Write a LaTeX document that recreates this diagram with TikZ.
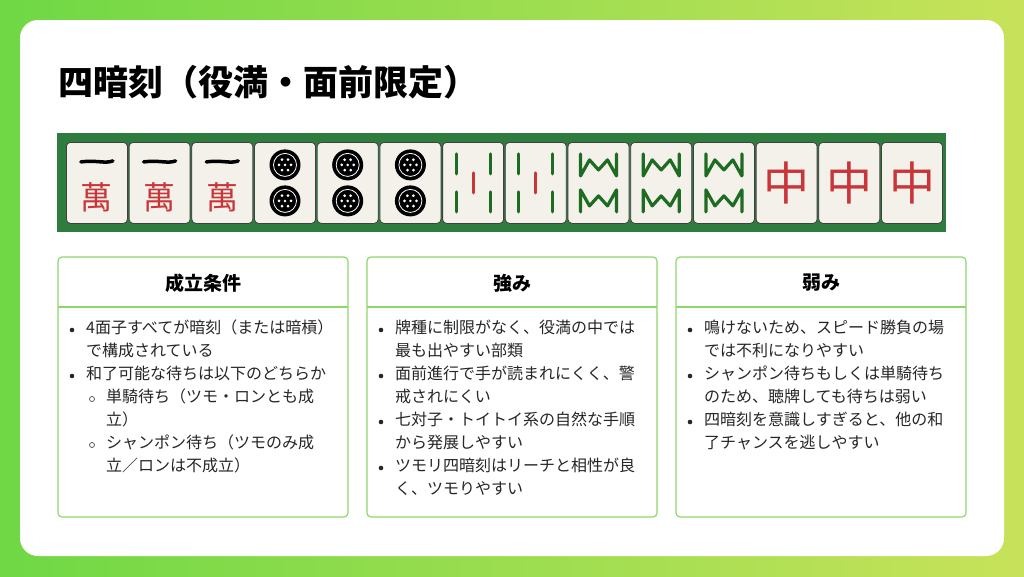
\documentclass[tikz,border=0pt]{standalone}
\usepackage{fontspec}
\setmainfont{Noto Sans CJK JP}
\usetikzlibrary{shadings,calc}
\definecolor{gL}{HTML}{6FD845}
\definecolor{gR}{HTML}{C8E25A}
\definecolor{bd}{HTML}{8ED86A}
\definecolor{felt}{HTML}{2E7D3E}
\definecolor{tile}{HTML}{F3F1EA}
\definecolor{bam}{HTML}{1E6B22}
\definecolor{mred}{HTML}{C8363A}
\definecolor{pin}{HTML}{2E2E66}
\begin{document}
\begin{tikzpicture}[x=1pt,y=-1pt,
  box/.style={draw=bd,line width=1.2pt,rounded corners=4pt,fill=white},
  hdr/.style={font=\fontsize{19}{22}\selectfont\bfseries},
  txt/.style={anchor=north west,inner sep=0pt,align=left,font=\fontsize{16}{23}\selectfont,text=black!85},
  tl/.style={fill=tile,draw=black!75,line width=0.8pt,rounded corners=4pt},
  bb/.style={draw=bam,line width=3.2pt,line cap=round},
  rb/.style={draw=mred,line width=3.2pt,line cap=round}]
\shade[left color=gL,right color=gR] (0,0) rectangle (1024,576);
\useasboundingbox (0,0) rectangle (1024,576);
\fill[white,rounded corners=18pt] (20,20) rectangle (1004,556);
\node[anchor=west,inner sep=0pt,font=\fontsize{35}{40}\selectfont\bfseries] (title) at (58,82) {四暗刻（役満・面前限定）};
% tile strip
\fill[felt] (57,133) rectangle (946,232);
\foreach \i in {0,...,13}{
  \pgfmathsetmacro{\xx}{66+62.7*\i}
  \node[tl,minimum width=61pt,minimum height=81pt,inner sep=0pt,anchor=north west] (t\i) at (\xx,142) {};
}
\foreach \i in {0,1,2}{
  \draw[black,line width=3.5pt,line cap=round] ($(t\i.center)+(-16,-21)$) .. controls ($(t\i.center)+(0,-23)$) and ($(t\i.center)+(8,-19)$) .. ($(t\i.center)+(16,-22)$);
  \node[font=\fontsize{32}{32}\selectfont,text=mred] at ($(t\i.center)+(0,14)$) {萬};
}
\foreach \i in {3,4,5}{
  \foreach \dy in {-18,18}{
    \coordinate (c) at ($(t\i.center)+(0,\dy)$);
    \fill[pin,draw=black,line width=1pt] (c) circle (15);
    \draw[white,line width=0.8pt] (c) circle (11.5);
    \foreach \a in {0,60,...,300}\fill[white] (c) ++(\a:6) circle (1.5);
    \fill[white] (c) circle (1.4);
  }
}
\foreach \i in {6,7}{
  \foreach \dx in {-17,17}\foreach \dy in {-19,19}
    \draw[bb] ($(t\i.center)+(\dx,\dy-10)$) -- ++(0,20);
  \draw[rb] ($(t\i.center)+(0,-10)$) -- ++(0,20);
}
\foreach \i in {8,9,10}{
  \draw[bb,line join=round] ($(t\i.center)+(-18,-29)$) -- ++(0,22) -- ++(9,-16) -- ++(9,10) -- ++(9,-10) -- ++(9,16) -- ++(0,-22);
  \draw[bb,line join=round] ($(t\i.center)+(-18,29)$) -- ++(0,-22) -- ++(9,16) -- ++(9,-10) -- ++(9,10) -- ++(9,-16) -- ++(0,22);
}
\foreach \i in {11,12,13}
  \node[font=\fontsize{46}{46}\selectfont,text=mred] at (t\i.center) {中};
% boxes
\foreach \n/\x/\h in {A/58/成立条件,B/367/強み,C/676/弱み}{
  \draw[box] (\x,257) rectangle ++(290,260);
  \draw[bd,line width=1.2pt] (\x,307) -- ++(290,0);
  \node[hdr] (h\n) at (\x+145,283) {\h};
}
\newcommand\bul[3]{\fill[black!85] (#1,#2+10) circle (2.3);
  \node[txt] at (#1+14,#2) {#3};}
\newcommand\sbul[3]{\draw[black!70,line width=0.7pt] (#1,#2+10) circle (2.5);
  \node[txt] at (#1+14,#2) {#3};}
\bul{72}{320}{4面子すべてが暗刻（または暗槓）\\で構成されている}
\bul{72}{366}{和了可能な待ちは以下のどちらか}
\sbul{92}{389}{単騎待ち（ツモ・ロンとも成\\立）}
\sbul{92}{435}{シャンポン待ち（ツモのみ成\\立／ロンは不成立）}
\bul{381}{320}{牌種に制限がなく、役満の中では\\最も出やすい部類}
\bul{381}{366}{面前進行で手が読まれにくく、警\\戒されにくい}
\bul{381}{412}{七対子・トイトイ系の自然な手順\\から発展しやすい}
\bul{381}{458}{ツモリ四暗刻はリーチと相性が良\\く、ツモりやすい}
\bul{690}{320}{鳴けないため、スピード勝負の場\\では不利になりやすい}
\bul{690}{366}{シャンポン待ちもしくは単騎待ち\\のため、聴牌しても待ちは弱い}
\bul{690}{412}{四暗刻を意識しすぎると、他の和\\了チャンスを逃しやすい}
\end{tikzpicture}
\end{document}
